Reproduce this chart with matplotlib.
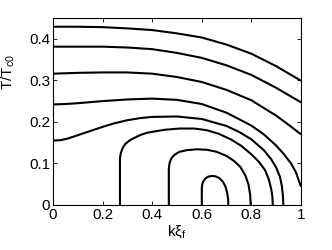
import matplotlib
matplotlib.use("Agg")
import matplotlib.pyplot as plt

plt.rcParams['font.family'] = ['Liberation Sans', 'DejaVu Sans']
plt.rcParams['mathtext.fontset'] = 'custom'
plt.rcParams['mathtext.rm'] = 'Liberation Sans'
plt.rcParams['mathtext.it'] = 'Liberation Sans'
plt.rcParams['mathtext.bf'] = 'Liberation Sans:bold'

# curves (k xi_f, T/Tc0)
c1_x = [0, 0.1, 0.2, 0.3, 0.4, 0.5, 0.6, 0.7, 0.8, 0.9, 1.0]
c1_y = [0.429, 0.429, 0.428, 0.425, 0.421, 0.413, 0.403, 0.386, 0.364, 0.334, 0.299]
c2_x = [0, 0.1, 0.2, 0.3, 0.4, 0.5, 0.6, 0.7, 0.8, 0.9, 1.0]
c2_y = [0.381, 0.381, 0.381, 0.379, 0.375, 0.366, 0.354, 0.336, 0.313, 0.282, 0.247]
c3_x = [0, 0.1, 0.2, 0.3, 0.4, 0.5, 0.6, 0.7, 0.8, 0.9, 0.95, 1.0]
c3_y = [0.316, 0.318, 0.319, 0.319, 0.316, 0.308, 0.296, 0.277, 0.252, 0.215, 0.193, 0.170]
c4_x = [0, 0.05, 0.1, 0.2, 0.3, 0.4, 0.5, 0.6, 0.7, 0.8, 0.85, 0.9, 0.93, 0.96, 0.98, 1.0]
c4_y = [0.242, 0.243, 0.245, 0.250, 0.254, 0.256, 0.253, 0.243, 0.222, 0.191, 0.170, 0.143, 0.123, 0.100, 0.078, 0.044]
c5_x = [0, 0.03, 0.06, 0.1, 0.15, 0.2, 0.25, 0.3, 0.35, 0.4, 0.5, 0.6, 0.7, 0.75, 0.8, 0.85, 0.88, 0.9, 0.915, 0.923, 0.927, 0.929]
c5_y = [0.155, 0.156, 0.160, 0.168, 0.178, 0.188, 0.197, 0.204, 0.209, 0.212, 0.213, 0.207, 0.190, 0.176, 0.158, 0.132, 0.110, 0.090, 0.068, 0.045, 0.022, 0.0]
c6_x = [0.270, 0.270, 0.273, 0.28, 0.29, 0.31, 0.35, 0.38, 0.45, 0.51, 0.57, 0.62, 0.67, 0.72, 0.76, 0.80, 0.83, 0.855, 0.87, 0.88, 0.885, 0.886]
c6_y = [0.0, 0.112, 0.124, 0.136, 0.146, 0.156, 0.168, 0.174, 0.181, 0.184, 0.184, 0.180, 0.171, 0.157, 0.142, 0.122, 0.104, 0.084, 0.062, 0.038, 0.018, 0.0]
c7_x = [0.467, 0.467, 0.470, 0.477, 0.49, 0.51, 0.54, 0.58, 0.62, 0.66, 0.70, 0.73, 0.755, 0.775, 0.788, 0.795, 0.797]
c7_y = [0.0, 0.088, 0.101, 0.112, 0.121, 0.128, 0.132, 0.134, 0.133, 0.128, 0.118, 0.106, 0.092, 0.072, 0.050, 0.025, 0.0]
c8_x = [0.600, 0.600, 0.602, 0.607, 0.615, 0.625, 0.64, 0.655, 0.67, 0.685, 0.695, 0.702, 0.706, 0.707]
c8_y = [0.0, 0.040, 0.050, 0.058, 0.064, 0.068, 0.070, 0.069, 0.065, 0.056, 0.045, 0.030, 0.015, 0.0]

curves = [(c1_x, c1_y), (c2_x, c2_y), (c3_x, c3_y), (c4_x, c4_y),
          (c5_x, c5_y), (c6_x, c6_y), (c7_x, c7_y), (c8_x, c8_y)]

xticks = [0, 0.2, 0.4, 0.6, 0.8, 1]
xticklabels = ['0', '0.2', '0.4', '0.6', '0.8', '1']
yticks = [0, 0.1, 0.2, 0.3, 0.4]
yticklabels = ['0', '0.1', '0.2', '0.3', '0.4']

fig = plt.figure(figsize=(3.32, 2.5), dpi=100)
ax = fig.add_axes([53/332, 45/250, 248/332, 187/250])
for x, y in curves:
    ax.plot(x, y, color='black', lw=1.5, solid_capstyle='butt', solid_joinstyle='round')
ax.set_xlim(0, 1)
ax.set_ylim(0, 0.45)
ax.set_xticks(xticks)
ax.set_xticklabels(xticklabels)
ax.set_yticks(yticks)
ax.set_yticklabels(yticklabels)
ax.tick_params(direction='in', top=True, right=True, length=3, width=0.6, labelsize=11, pad=2)
for s in ax.spines.values():
    s.set_linewidth(0.8)
ax.set_xlabel(r'k$\xi_{\mathrm{f}}$', fontsize=11, labelpad=1)
ax.set_ylabel(r'T/T$_{\mathrm{c0}}$', fontsize=11)
ax.yaxis.set_label_coords(-0.145, 0.71)
fig.savefig('out.png', dpi=100)
